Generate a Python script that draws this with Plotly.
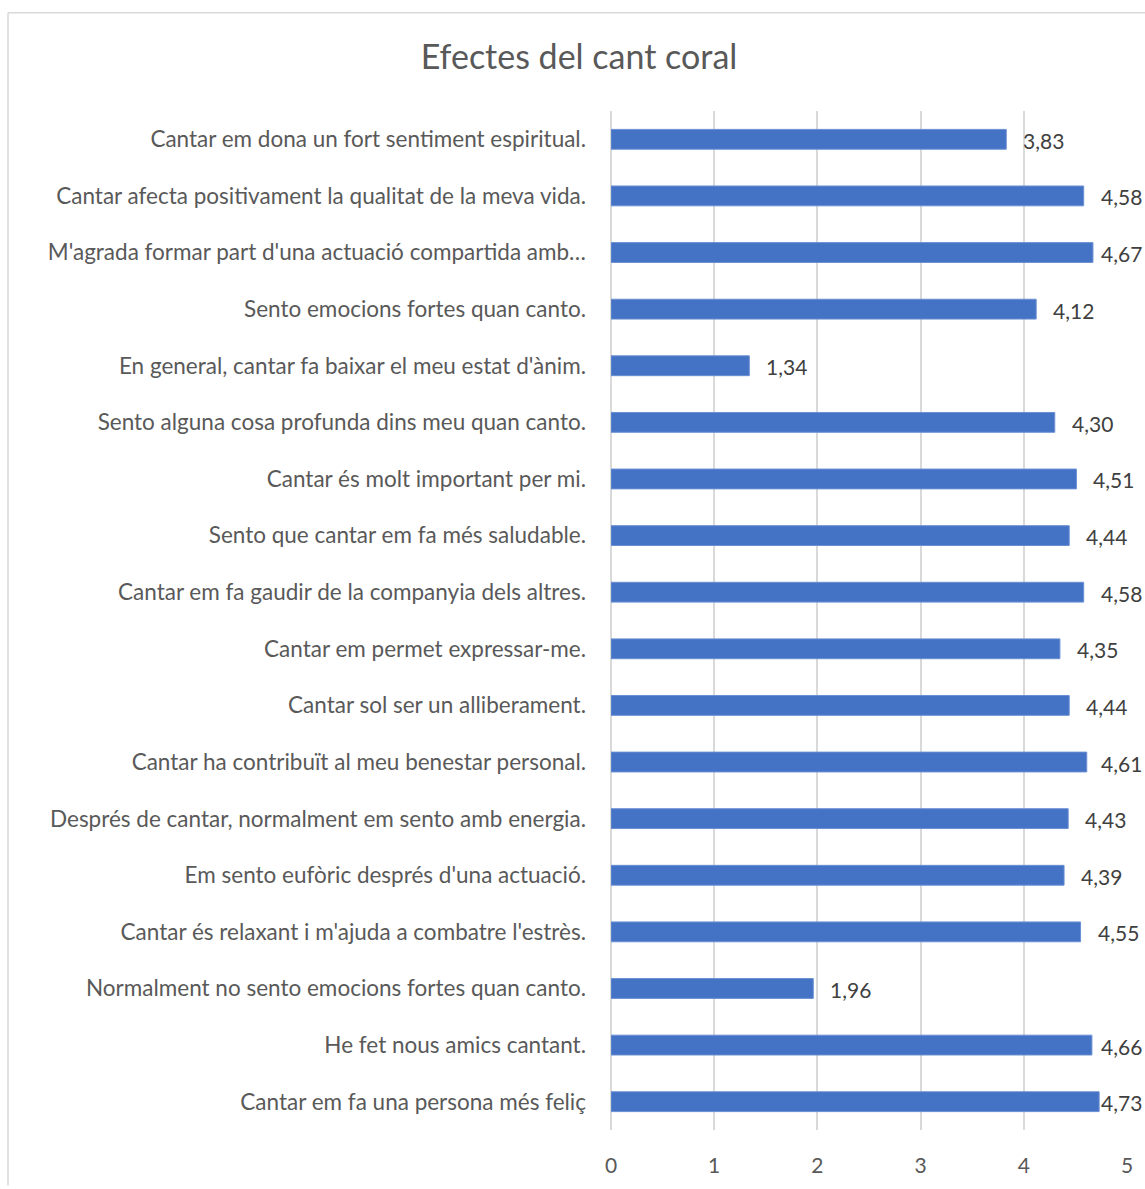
import plotly.graph_objects as go

categories = [
    "Cantar em dona un fort sentiment espiritual.",
    "Cantar afecta positivament la qualitat de la meva vida.",
    "M'agrada formar part d'una actuació compartida amb…",
    "Sento emocions fortes quan canto.",
    "En general, cantar fa baixar el meu estat d'ànim.",
    "Sento alguna cosa profunda dins meu quan canto.",
    "Cantar és molt important per mi.",
    "Sento que cantar em fa més saludable.",
    "Cantar em fa gaudir de la companyia dels altres.",
    "Cantar em permet expressar-me.",
    "Cantar sol ser un alliberament.",
    "Cantar ha contribuït al meu benestar personal.",
    "Després de cantar, normalment em sento amb energia.",
    "Em sento eufòric després d'una actuació.",
    "Cantar és relaxant i m'ajuda a combatre l'estrès.",
    "Normalment no sento emocions fortes quan canto.",
    "He fet nous amics cantant.",
    "Cantar em fa una persona més feliç",
]
values = [3.83, 4.58, 4.67, 4.12, 1.34, 4.30, 4.51, 4.44, 4.58, 4.35,
          4.44, 4.61, 4.43, 4.39, 4.55, 1.96, 4.66, 4.73]
tick_vals = [0, 1, 2, 3, 4, 5]
title = "Efectes del cant coral"

W, H = 1145, 1189
L, R, T, B = 611, 18, 111, 51
plot_w = W - L - R
xmax = 5
px_per_unit = plot_w / xmax
n = len(categories)

FONT = "Lato, Calibri, sans-serif"
TXT = "#595959"

fig = go.Figure()
fig.add_trace(go.Bar(
    y=categories, x=values, orientation="h",
    marker=dict(color="#4472C4", line=dict(color="#6a8fd3", width=1)),
    width=0.35, hoverinfo="skip",
))

label_w = 44
annotations = []
for c, v in zip(categories, values):
    bar_end = v * px_per_unit
    shift = 15
    if bar_end + shift + label_w > plot_w + R - 2:
        shift = max(0, plot_w + R - 2 - label_w - bar_end)
    annotations.append(dict(
        x=v, y=c, xref="x", yref="y", text=f"{v:.2f}".replace(".", ","),
        showarrow=False, xanchor="left", yanchor="middle", xshift=shift, yshift=-1,
        font=dict(family=FONT, size=21, color="#404040"),
    ))

fig.update_layout(
    width=W, height=H,
    margin=dict(l=L, r=R, t=T, b=B, pad=0),
    paper_bgcolor="white", plot_bgcolor="white",
    title=dict(text=title, x=(579) / W, xanchor="center", y=1 - 57 / H, yanchor="middle",
               font=dict(family=FONT, size=34, color=TXT)),
    showlegend=False,
    bargap=0.65,
    annotations=annotations,
    xaxis=dict(range=[0, xmax], tickvals=tick_vals, showgrid=True, gridcolor="#d9d9d9",
               gridwidth=1.5, zeroline=True, zerolinecolor="#d9d9d9", zerolinewidth=1.5,
               showline=False, ticks="", ticklabelstandoff=21,
               tickfont=dict(family=FONT, size=21, color=TXT), fixedrange=True),
    yaxis=dict(categoryorder="array", categoryarray=categories, autorange=False,
               range=[n - 0.5, -0.5],
               showgrid=False, showline=False, ticks="", ticklabelstandoff=24,
               tickfont=dict(family=FONT, size=22.5, color=TXT), fixedrange=True),
)

# chart border (left and top edges visible in the cropped view)
x0 = (8 - L) / plot_w
y_top = 1 + (T - 12) / (H - T - B)
y_bot = -(B + 5) / (H - T - B)
fig.add_shape(type="line", xref="paper", yref="paper", x0=x0, x1=x0, y0=y_bot, y1=y_top,
              line=dict(color="#d9d9d9", width=1.5))
fig.add_shape(type="line", xref="paper", yref="paper", x0=x0, x1=1 + (R + 5) / plot_w,
              y0=y_top, y1=y_top, line=dict(color="#d9d9d9", width=1.5))

fig.write_html("out.html")
